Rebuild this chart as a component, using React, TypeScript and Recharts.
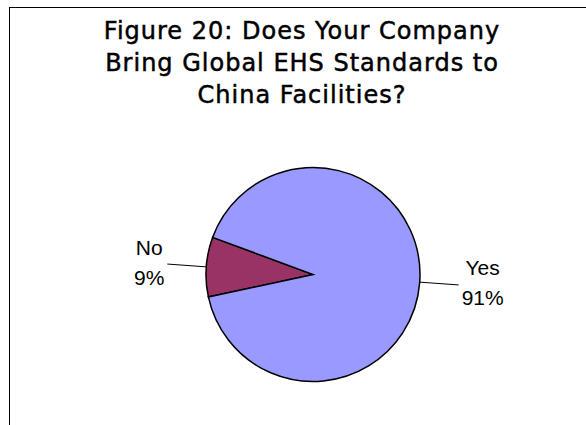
import { PieChart, Pie, Cell } from 'recharts';

const categories = ['No', 'Yes'];
const values = [9, 91];
const colors = ['#993366', '#9999FF'];
const titleLines = [
  'Figure 20: Does Your Company',
  'Bring Global EHS Standards to',
  'China Facilities?',
];

const data = categories.map((name, i) => ({ name, value: values[i] }));

const RADIAN = Math.PI / 180;
const LABEL_FONT = '21px "Liberation Sans", Arial, sans-serif';

// measure text so the two label lines can be centred next to the leader line
const measure = (s: string) => {
  const ctx = document.createElement('canvas').getContext('2d');
  if (!ctx) return s.length * 11;
  ctx.font = LABEL_FONT;
  return ctx.measureText(s).width;
};

const renderLabel = (props: any) => {
  const { cx, cy, midAngle, outerRadius, name, percent } = props;
  const cos = Math.cos(-midAngle * RADIAN);
  const sin = Math.sin(-midAngle * RADIAN);
  const sx = cx + outerRadius * cos;
  const sy = cy + outerRadius * sin;
  const ex = cx + (outerRadius + 39) * cos;
  const ey = cy + (outerRadius + 39) * sin;
  const pct = `${Math.round(percent * 100)}%`;
  const half = Math.max(measure(name), measure(pct)) / 2;
  const tx = cos >= 0 ? ex + half + 3 : ex - half - 3;
  return (
    <g>
      <line x1={sx} y1={sy} x2={ex} y2={ey} stroke="#000" strokeWidth={1} />
      <text
        x={tx}
        y={ey - 9.5}
        textAnchor="middle"
        fill="#000"
        style={{ font: LABEL_FONT }}
      >
        {name}
      </text>
      <text
        x={tx}
        y={ey + 20.5}
        textAnchor="middle"
        fill="#000"
        style={{ font: LABEL_FONT }}
      >
        {pct}
      </text>
    </g>
  );
};

export default function App() {
  return (
    <div
      style={{
        position: 'absolute',
        left: 0,
        top: 0,
        width: 586,
        height: 425,
        background: '#fff',
        overflow: 'hidden',
      }}
    >
      {/* chart area frame, only left and top edges are visible */}
      <div
        style={{
          position: 'absolute',
          left: 9,
          top: 7,
          width: 600,
          height: 440,
          borderLeft: '1px solid #000',
          borderTop: '1px solid #000',
        }}
      />
      <div
        style={{
          position: 'absolute',
          left: 0,
          top: 15,
          width: 604,
          textAlign: 'center',
          fontFamily: '"DejaVu Sans", Verdana, sans-serif',
          fontSize: 24,
          letterSpacing: 1,
          WebkitTextStroke: '0.5px #000',
          lineHeight: '32px',
          color: '#000',
        }}
      >
        {titleLines.map((t) => (
          <div key={t}>{t}</div>
        ))}
      </div>
      <div style={{ position: 'absolute', left: 0, top: 0 }}>
        <PieChart
          width={586}
          height={425}
          margin={{ top: 0, right: 0, bottom: 0, left: 0 }}
        >
          <Pie
            data={data}
            dataKey="value"
            nameKey="name"
            cx={313}
            cy={274.5}
            outerRadius={107}
            startAngle={159.7}
            endAngle={519.7}
            stroke="#000"
            strokeWidth={1.5}
            label={renderLabel}
            labelLine={false}
            isAnimationActive={false}
          >
            {data.map((d, i) => (
              <Cell key={d.name} fill={colors[i]} />
            ))}
          </Pie>
        </PieChart>
      </div>
    </div>
  );
}
